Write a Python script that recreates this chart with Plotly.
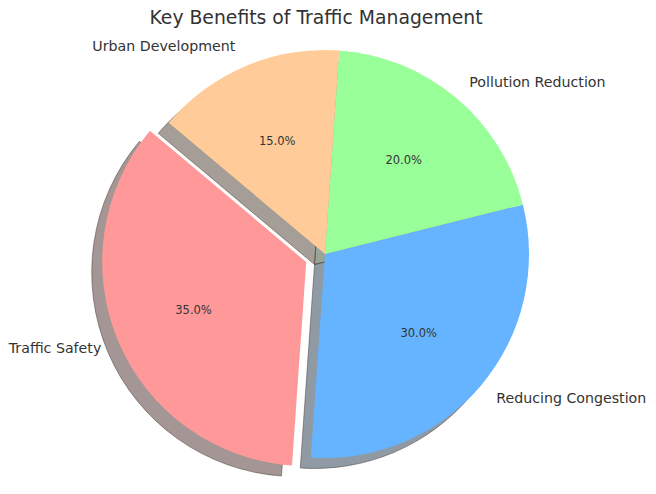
import math
import plotly.graph_objects as go

# Data
categories = ["Traffic Safety", "Reducing Congestion", "Pollution Reduction", "Urban Development"]
shares = [35, 30, 20, 15]
colors = ["#ff9999", "#66b3ff", "#99ff99", "#ffcc99"]
pulls = [0.1, 0, 0, 0]
title_text = "Key Benefits of Traffic Management"

W, H = 656, 494
cx, cy = 325, 254          # pie centre in px (from top-left)
R = 204                    # pie radius in px
START = 140                # start angle of first wedge (deg, counter-clockwise from 3 o'clock)
PCT_DIST = 0.6             # percentage label distance (fraction of radius)
PULL = max(pulls)
total = sum(shares)

rotation = 90 - (START + 360 * shares[0] / total)   # plotly: first slice ends at rotation

def domain(radius, pull_frac, dx=0.0, dy=0.0):
    half = radius * (1 + pull_frac)
    yc = H - (cy + dy)
    clamp = lambda v: min(1.0, max(0.0, v))
    return dict(x=[clamp((cx + dx - half) / W), clamp((cx + dx + half) / W)],
                y=[clamp((yc - half) / H), clamp((yc + half) / H)])

def shade(hexcol):
    h = hexcol.lstrip("#")
    r, g, b = (int(h[i:i + 2], 16) for i in (0, 2, 4))
    return f"rgba({0.3*r:.0f},{0.3*g:.0f},{0.3*b:.0f},0.5)"

common = dict(labels=categories, values=shares, sort=False,
              direction="counterclockwise", rotation=rotation, showlegend=False)
clear = ["rgba(0,0,0,0)"] * len(categories)

fig = go.Figure()

# shadow
SH = 10.5
fig.add_trace(go.Pie(**common, pull=pulls, domain=domain(R, PULL, -SH, SH),
                     marker=dict(colors=[shade(c) for c in colors],
                                 line=dict(width=0.8, color="rgba(70,50,50,0.6)")),
                     textinfo="none", hoverinfo="skip"))

# main pie
fig.add_trace(go.Pie(**common, pull=pulls, domain=domain(R, PULL),
                     marker=dict(colors=colors, line=dict(width=0)),
                     textinfo="none"))

# percentage labels: one transparent ring per wedge, sized so that plotly's
# inscribed-circle text centre lands at PCT_DIST of the real radius
acc = 0
for i, v in enumerate(shares):
    mid = math.radians(START + 360 * (acc + v / 2) / total)
    acc += v
    s = math.sin(math.pi * v / total)
    ri = PCT_DIST * R * (1 + s)
    off = pulls[i] * R
    dx, dy = off * math.cos(mid), -off * math.sin(mid)
    tt = ["%{percent:.1%}" if j == i else "" for j in range(len(shares))]
    fig.add_trace(go.Pie(**common, domain=domain(ri, 0, dx, dy),
                         marker=dict(colors=clear, line=dict(width=0)),
                         texttemplate=tt, textposition="inside",
                         insidetextorientation="horizontal", hoverinfo="skip",
                         insidetextfont=dict(family="DejaVu Sans", size=11.5, color="#333333")))

# transparent ring used only for outside category labels
RL = R * 1.07
pl = [p * R / RL for p in pulls]
fig.add_trace(go.Pie(**common, pull=pl, domain=domain(RL, max(pl)),
                     marker=dict(colors=clear, line=dict(width=0)),
                     textinfo="label", textposition="outside", hoverinfo="skip",
                     outsidetextfont=dict(family="DejaVu Sans", size=14.2, color="#333333")))

fig.update_layout(
    width=W, height=H,
    margin=dict(l=0, r=0, t=0, b=0, autoexpand=False),
    paper_bgcolor="white", plot_bgcolor="white",
    title=dict(text=title_text, x=316 / W, xanchor="center",
               y=1 - 17 / H, yanchor="middle", yref="container",
               font=dict(family="DejaVu Sans", size=18.8, color="#333333")),
)

fig.write_html("out.html", config={"displayModeBar": False},
               post_script="document.body.style.margin='0';")
